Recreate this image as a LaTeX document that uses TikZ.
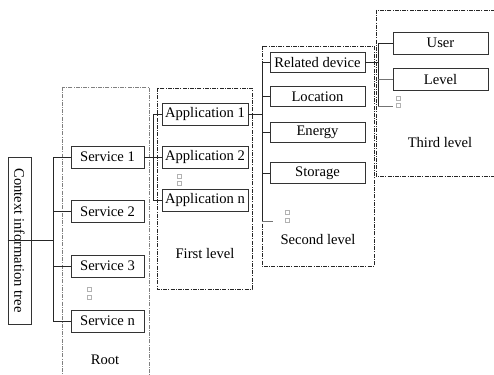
\documentclass[tikz,border=0pt]{standalone}
\usepackage{fontspec}
\setmainfont{Liberation Serif}
\begin{document}
\begin{tikzpicture}[x=1pt,y=-1pt,
  box/.style={draw=black!80,line width=0.95pt,inner sep=0pt,minimum height=22pt,font=\fontsize{14.6}{17}\selectfont,text=black},
  svc/.style={box,minimum width=73pt},
  app/.style={box,minimum width=86pt},
  sec/.style={box,minimum width=95pt,minimum height=20.5pt},
  thr/.style={box,minimum width=95pt},
  grp/.style={draw=black!85,line width=0.8pt,dash pattern=on 4pt off 1.2pt on 1pt off 1.2pt},
  lbl/.style={inner sep=0pt,font=\fontsize{14.6}{17}\selectfont,text=black},
  con/.style={draw=black!85,line width=0.9pt},
  stub/.style={draw=black!55,line width=1pt},
  dotbox/.style={draw=black!30,line width=0.4pt,inner sep=0pt,minimum size=3.6pt}
]
\clip (0,0) rectangle (494,374);
\fill[white] (0,0) rectangle (494,374);

% group frames
\draw[grp,draw=black!50] (62,87) rectangle (149,390);
\draw[grp] (157,88) rectangle (252,289);
\draw[grp] (262,46) rectangle (374,266);
\draw[grp] (376,10) rectangle (510,176);

% root
\node[box,rotate=-90,minimum width=167pt,minimum height=23pt] (ctx) at (19.5,240.5) {Context information tree};

\node[svc] (s1) at (107.5,157) {Service 1};
\node[svc] (s2) at (107.5,211.5) {Service 2};
\node[svc] (s3) at (107.5,266) {Service 3};
\node[svc] (sn) at (107.5,321) {Service n};
\node[dotbox] (d1a) at (89,289) {};
\node[dotbox] (d1b) at (89,297) {};
\node[lbl] (lroot) at (105,360) {Root};

\node[app] (a1) at (205,114) {Application 1};
\node[app] (a2) at (205,157) {Application 2};
\node[app] (an) at (205,200) {Application n};
\node[dotbox] (d2a) at (179,176) {};
\node[dotbox] (d2b) at (179,183) {};
\node[lbl] (lfirst) at (205,254) {First level};

\node[sec] (rel) at (317.5,62.5) {Related device};
\node[sec] (loc) at (317.5,96.5) {Location};
\node[sec] (en) at (317.5,132.5) {Energy};
\node[sec] (st) at (317.5,173) {Storage};
\node[dotbox] (d3a) at (287,212) {};
\node[dotbox] (d3b) at (287,220) {};
\node[lbl] (lsecond) at (318,240) {Second level};

\node[thr] (usr) at (440.5,43) {User};
\node[thr] (lev) at (440.5,79.5) {Level};
\node[dotbox] (d4a) at (398,98) {};
\node[dotbox] (d4b) at (398,105) {};
\node[lbl] (lthird) at (440,143) {Third level};

% trunk coordinates
\coordinate (t0) at (53,0);
\coordinate (t1) at (153,0);
\coordinate (t2) at (262,0);
\coordinate (t3) at (378,0);
\coordinate (e2) at (273,221);
\coordinate (e3) at (393,107);

% root connectors
\draw[con] (ctx.south) -- (ctx.south -| t0);
\draw[con] (s1.west) -- (s1.west -| t0) -- (sn.west -| t0) -- (sn.west);
\draw[con] (s2.west) -- (s2.west -| t0);
\draw[con] (s3.west) -- (s3.west -| t0);

% first level
\draw[con] (s1.east) -- (a2.west);
\draw[con] (a1.west) -- (a1.west -| t1) -- (an.west -| t1) -- (an.west);

% second level
\draw[con] (a1.east) -- (a1.east -| t2);
\draw[con] (rel.west) -- (rel.west -| t2) -- (e2 -| t2);
\draw[stub] (e2 -| t2) -- (e2);
\draw[con] (loc.west) -- (loc.west -| t2);
\draw[con] (en.west) -- (en.west -| t2);
\draw[con] (st.west) -- (st.west -| t2);

% third level
\draw[con] (rel.east) -- (rel.east -| t3);
\draw[con] (usr.west) -- (usr.west -| t3) -- (e3 -| t3);
\draw[stub] (e3 -| t3) -- (e3);
\draw[stub] (lev.west) -- (lev.west -| t3);
\end{tikzpicture}
\end{document}
